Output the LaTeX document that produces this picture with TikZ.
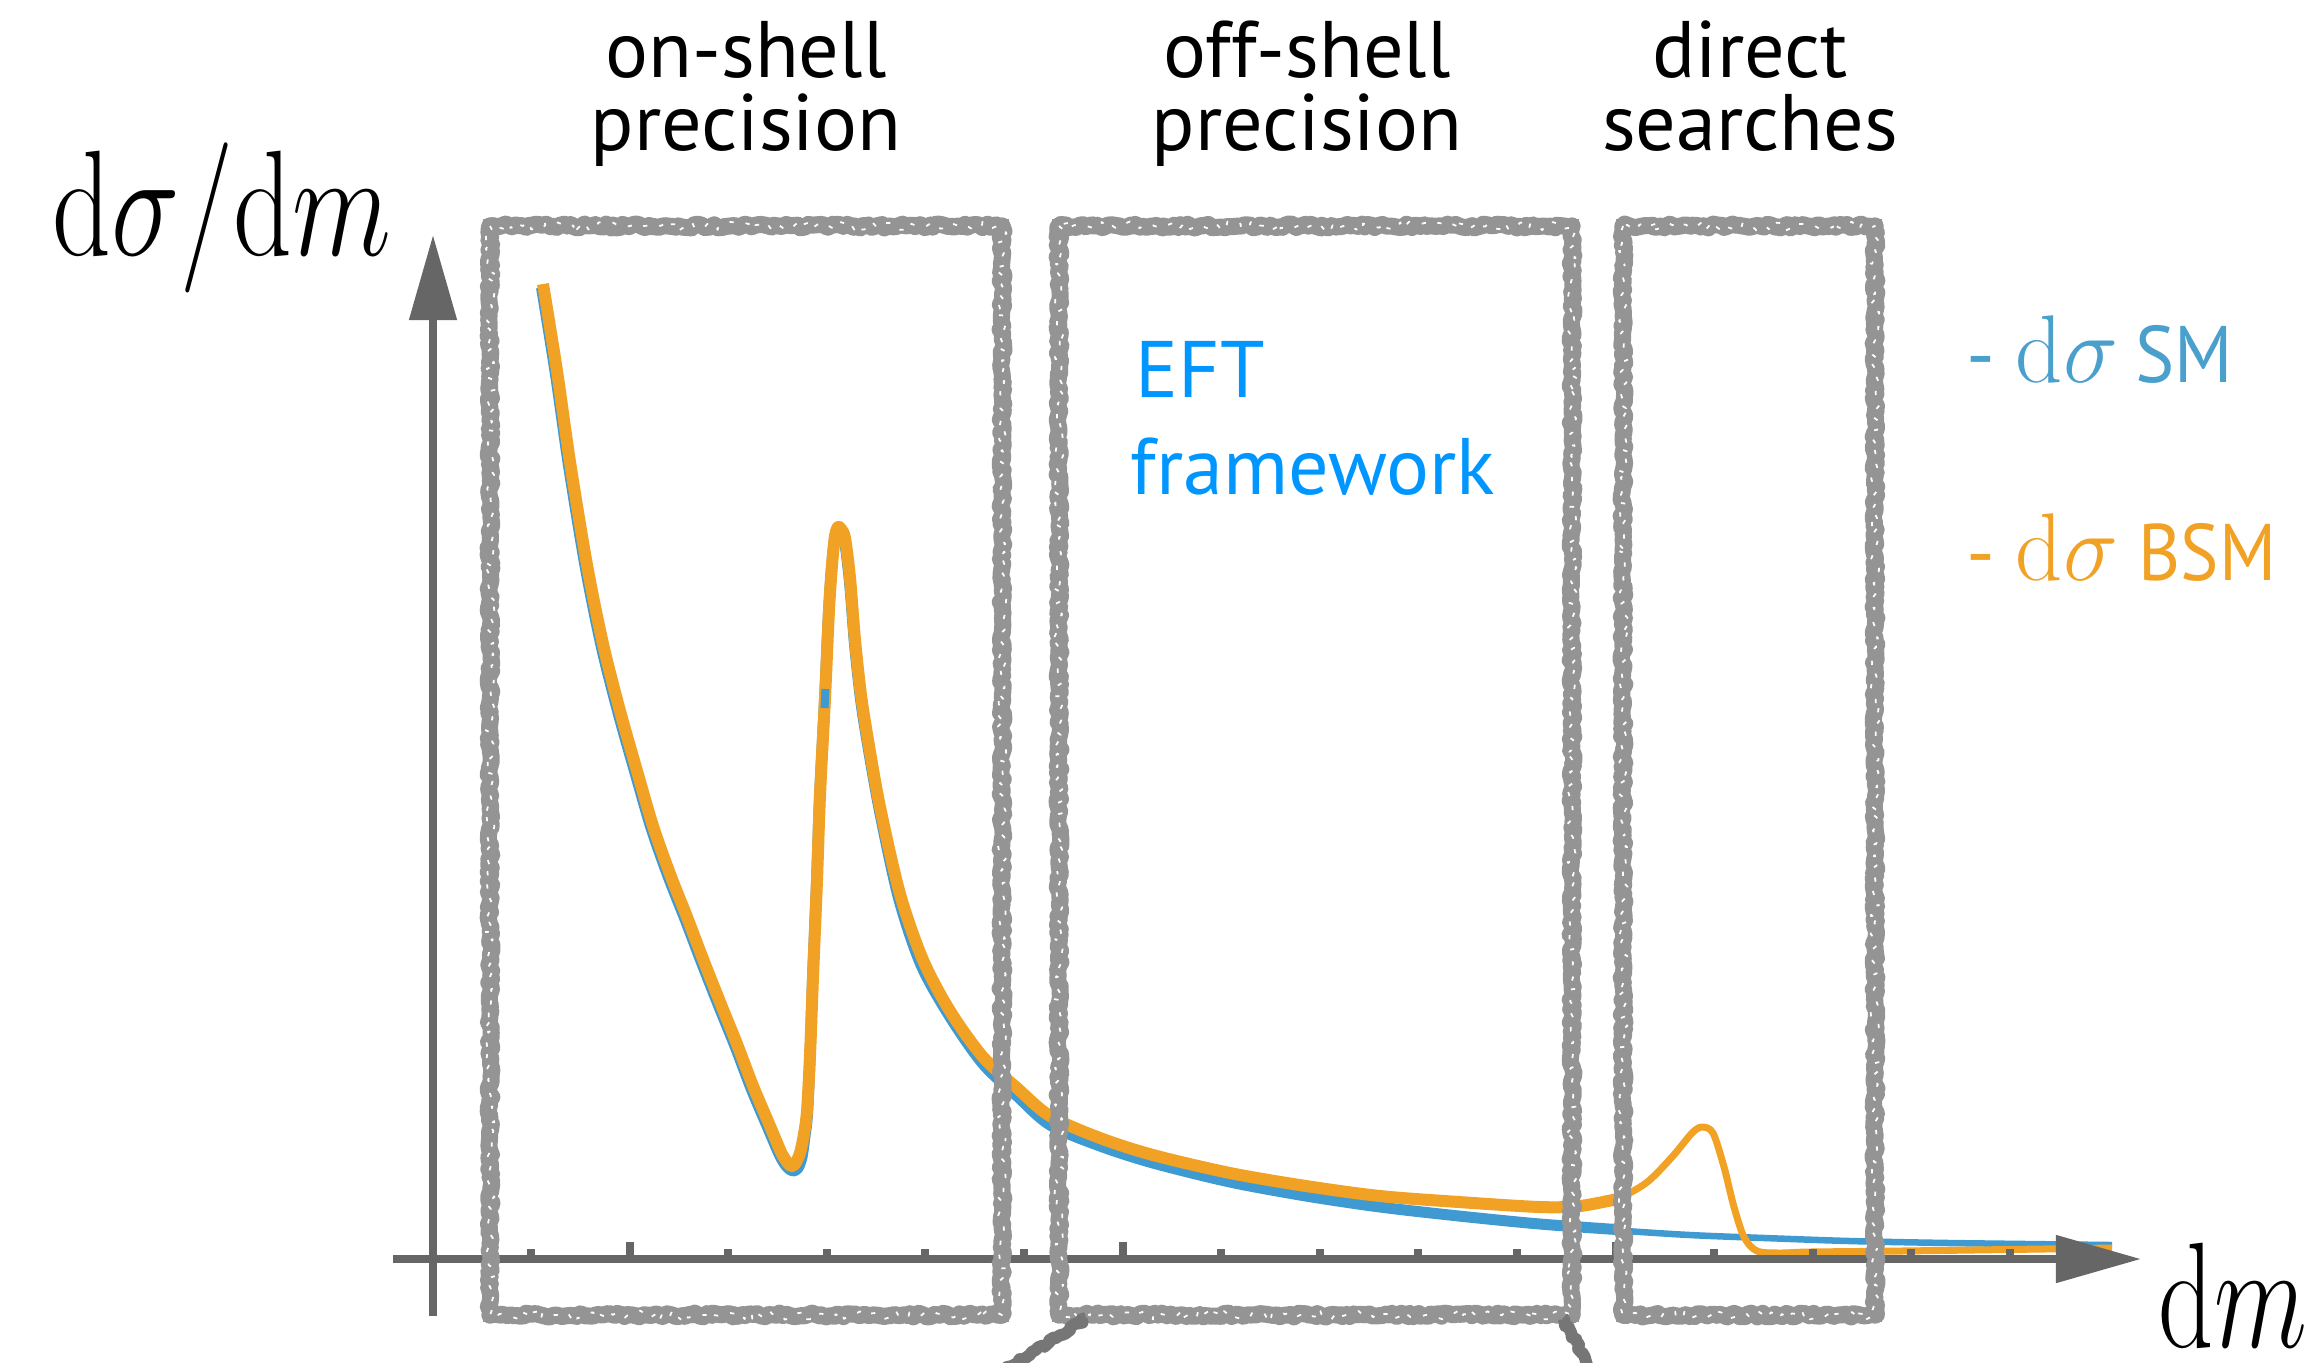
\documentclass[tikz,border=0pt]{standalone}
\usepackage{fontspec}
\setsansfont{PT Sans}
\usepackage{graphicx}
\usetikzlibrary{arrows.meta,decorations.pathmorphing}
\definecolor{axisgray}{RGB}{102,102,102}
\definecolor{chalk}{RGB}{148,148,148}
\definecolor{chalkdark}{RGB}{118,118,118}
\definecolor{smblue}{RGB}{62,154,208}
\definecolor{bsmorange}{RGB}{241,161,36}
\definecolor{eftblue}{RGB}{0,150,255}
\definecolor{legblue}{RGB}{74,160,205}
\newcommand{\bigmath}[3]{\scalebox{#1}[#2]{\fontsize{24.88}{30}\selectfont$#3$}}
\begin{document}
\begin{tikzpicture}[x=0.01cm,y=-0.01cm,
  lab/.style={font=\sffamily\fontsize{22.8}{26}\selectfont, inner sep=0pt},
  axlab/.style={inner sep=0pt},
  leg/.style={inner sep=0pt, font=\sffamily\fontsize{22.8}{26}\selectfont},
  axisline/.style={axisgray, line width=0.08cm, -{Triangle[length=0.85cm,width=0.46cm]}},
  chalkbase/.style={draw=chalk, line width=0.14cm, line join=miter},
  chalkbox/.style={draw=chalk, line width=0.17cm, line join=round, line cap=round, decorate,
     decoration={random steps, segment length=1pt, amplitude=0.55pt}},
  chalkfleck/.style={white, line width=0.5pt, line join=round, dash pattern=on 1.2pt off 3.5pt, decorate,
     decoration={random steps, segment length=1.3pt, amplitude=1.3pt}},
  smthick/.style={smblue, line width=0.11cm, line join=round},
  smthin/.style={smblue, line width=0.065cm, line join=round},
  bsmthick/.style={bsmorange, line width=0.12cm, line join=round},
  bsmthin/.style={bsmorange, line width=0.07cm, line join=round}]
\pgfmathsetseed{7}
\fill[white] (0,0) rectangle (2324,1362);
\useasboundingbox (0,0) rectangle (2324,1362);

% ---- curves ----
\draw[smthick] plot[smooth, tension=0.5] coordinates {
 (541.5,287.5) (555.5,374.5) (568.5,465.5) (585.5,568.5) (601.5,647.5) (618.5,714.5)
 (635.5,774.5) (651.5,829.5) (668.5,877.5) (685.5,920.5) (701.5,962.5) (718.5,1005.5)
 (735.5,1047.5) (751.5,1089.5) (768.5,1129.5) (780,1156) (787,1167) (793,1171) (798,1168)
 (802,1157) (805,1136) (807.5,1114) (810,1058) (812.5,980) (816.5,883) (819.5,798)
 (824.5,701) (828.5,613) (831.5,568) (834.5,539) (837.5,530) (840.5,532) (844.5,541)
 (849.5,582) (854.5,644) (860.5,699) (867.5,744) (879.5,811) (898.5,898) (921,965)
 (950,1017) (983,1064) (1017,1096) (1050,1125) (1100,1146) (1153,1163) (1230,1182)
 (1306,1196) (1380,1207) (1459,1216) (1540,1224) (1624,1230)};
\draw[smthin] plot[smooth, tension=0.5] coordinates {
 (1540,1224) (1612,1230) (1690,1235) (1765,1238) (1850,1241) (1950,1243) (2112,1245)};
\draw[bsmthin] plot[smooth, tension=0.5] coordinates {
 (1540,1207) (1580,1206) (1614,1200) (1646,1183) (1672,1157) (1692,1133) (1702,1127)
 (1713,1133) (1724,1167) (1734,1207) (1744,1237) (1757,1251) (1780,1253) (1809,1252)
 (1900,1251) (2112,1248)};
\draw[bsmthick] plot[smooth, tension=0.5] coordinates {
 (543,284) (557,371) (570,462) (587,565) (603,644) (620,711) (637,771) (653,826)
 (670,874) (687,917) (703,959) (720,1002) (737,1044) (753,1086) (770,1126) (781,1152)
 (787,1162) (791,1166) (795,1164) (800,1153) (804,1134) (807,1111) (810,1055) (813,977)
 (817,880) (820,795) (825,698) (829,610) (832,565) (835,536) (838,527) (841,529)
 (845,538) (850,578) (855,640) (861,695) (868,740) (880,807) (900,894) (923,960)
 (950,1011) (983,1057) (1017,1088) (1050,1116) (1100,1138) (1153,1155) (1230,1173)
 (1306,1186) (1380,1196) (1459,1202) (1540,1207) (1580,1206) (1622,1198)};
\draw[smblue, line width=0.08cm] (825.4,689) -- (824.6,708);

% ---- axes ----
\foreach \k in {0,...,15}{
  \pgfmathsetmacro{\tx}{531+98.6*\k}
  \pgfmathsetmacro{\ty}{mod(\k,5)==1 ? 1242 : 1249}
  \fill[axisgray] ({\tx-4},\ty) rectangle ({\tx+4},1259);
}
\coordinate (xs) at (393,1259);
\coordinate (xe) at (2141,1259);
\coordinate (ys) at (433,1316);
\coordinate (ye) at (433,235);
\draw[axisline] (xs) -- (xe);
\draw[axisline] (ys) -- (ye);

% ---- chalk boxes ----
\foreach \bx/\ex in {490/1002, 1059/1572, 1623/1875}{
  \draw[chalkbase] (\bx,226) rectangle (\ex,1315);
  \draw[chalkbox] (\bx,226) -- (\ex,226);
  \draw[chalkbox] (\ex,226) -- (\ex,1315);
  \draw[chalkbox] (\ex,1315) -- (\bx,1315);
  \draw[chalkbox] (\bx,1315) -- (\bx,226);
  \draw[chalkfleck] (\bx,226) rectangle (\ex,1315);
}
\begin{scope}
\clip (0,0) rectangle (2324,1362);
\coordinate (cl1) at (1086,1318);
\coordinate (cl2) at (988,1380);
\coordinate (cr1) at (1563,1318);
\coordinate (cr2) at (1596,1380);
\draw[chalkdark, line width=0.12cm, line join=round, decorate, decoration={random steps, segment length=1pt, amplitude=0.6pt}] (cl1) -- (cl2);
\draw[chalkdark, line width=0.12cm, line join=round, decorate, decoration={random steps, segment length=1pt, amplitude=0.6pt}] (cr1) -- (cr2);
\end{scope}

% ---- labels ----
\node[lab, anchor=base] (on1) at (746,77) {on-shell};
\node[lab, anchor=base] (on2) at (746,150) {precision};
\node[lab, anchor=base] (off1) at (1307,77) {off-shell};
\node[lab, anchor=base] (off2) at (1307,150) {precision};
\node[lab, anchor=base] (dir1) at (1750,77) {direct};
\node[lab, anchor=base] (dir2) at (1750,150) {searches};
\node[lab, anchor=base west, text=eftblue] (eft1) at (1135,397) {EFT};
\node[lab, anchor=base west, text=eftblue] (eft2) at (1130,494) {framework};

\node[axlab, anchor=base west] (ylab) at (52,255) {\bigmath{1.32}{1.72}{\mathrm{d}\sigma/\mathrm{d}m}};
\node[axlab, anchor=base east] (xlab) at (2308,1347) {\bigmath{1.24}{1.72}{\mathrm{d}m}};

\node[leg, anchor=base west, text=legblue] (smdash) at (1966,382) {-};
\node[axlab, anchor=base west, text=legblue] (smds) at (2015,382) {\bigmath{1.06}{1.1}{\mathrm{d}\sigma}};
\node[leg, anchor=base west, text=legblue] (smtxt) at (2135,382) {\scalebox{0.92}[1]{SM}};
\node[leg, anchor=base west, text=bsmorange] (bsmdash) at (1966,580) {-};
\node[axlab, anchor=base west, text=bsmorange] (bsmds) at (2015,580) {\bigmath{1.06}{1.1}{\mathrm{d}\sigma}};
\node[leg, anchor=base west, text=bsmorange] (bsmtxt) at (2138,580) {\scalebox{0.9}[1]{BSM}};
\end{tikzpicture}
\end{document}
